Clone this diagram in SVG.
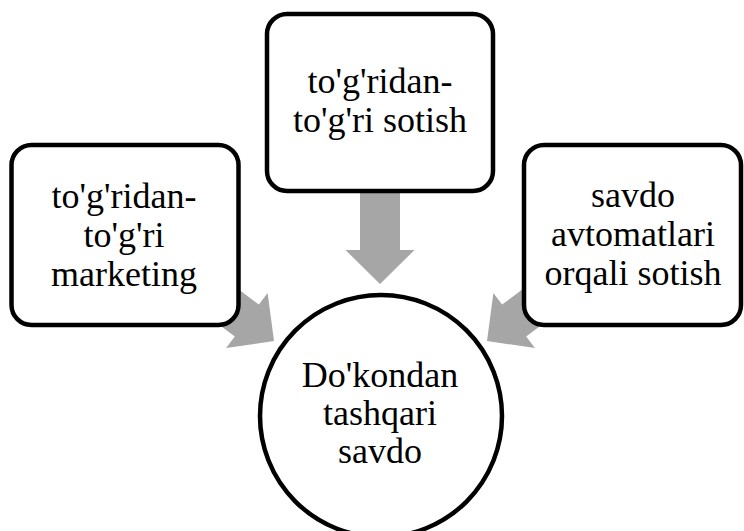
<svg xmlns="http://www.w3.org/2000/svg" width="744" height="531" viewBox="0 0 744 531">
  <defs>
    <style>
      .box { fill: #ffffff; stroke: #000000; stroke-width: 4.5; }
      .arrow { fill: #a6a6a6; stroke: none; }
      .lbl { font-family: "Liberation Serif", "Times New Roman", serif; font-size: 36px; fill: #000000; text-anchor: middle; }
    </style>
    <polygon id="arrowShape" points="0,0 -34,-34.5 -34,-20 -94,-20 -94,20 -34,20 -34,34.5"/>
  </defs>
  <rect width="744" height="531" fill="#ffffff"/>
  <g id="connectors">
    <use href="#arrowShape" class="arrow" transform="translate(380,284) rotate(90)"/>
    <use href="#arrowShape" class="arrow" transform="translate(274,341) rotate(37)"/>
    <use href="#arrowShape" class="arrow" transform="translate(487,341) scale(-1,1) rotate(37)"/>
  </g>
  <g id="node-left">
    <rect class="box" x="11.5" y="145" width="227" height="180" rx="20" ry="20"/>
    <text class="lbl" x="124" y="208">to'g'ridan-</text>
    <text class="lbl" x="124" y="247">to'g'ri</text>
    <text class="lbl" x="124" y="286">marketing</text>
  </g>
  <g id="node-top">
    <rect class="box" x="267" y="14" width="226" height="177" rx="20" ry="20"/>
    <text class="lbl" x="380" y="93">to'g'ridan-</text>
    <text class="lbl" x="380" y="132">to'g'ri sotish</text>
  </g>
  <g id="node-right">
    <rect class="box" x="524" y="145" width="217" height="180" rx="20" ry="20"/>
    <text class="lbl" x="633" y="207">savdo</text>
    <text class="lbl" x="633" y="246">avtomatlari</text>
    <text class="lbl" x="633" y="285">orqali sotish</text>
  </g>
  <g id="node-center">
    <circle class="box" cx="381" cy="416" r="121"/>
    <text class="lbl" x="380" y="387">Do'kondan</text>
    <text class="lbl" x="380" y="425">tashqari</text>
    <text class="lbl" x="380" y="463">savdo</text>
  </g>
</svg>
